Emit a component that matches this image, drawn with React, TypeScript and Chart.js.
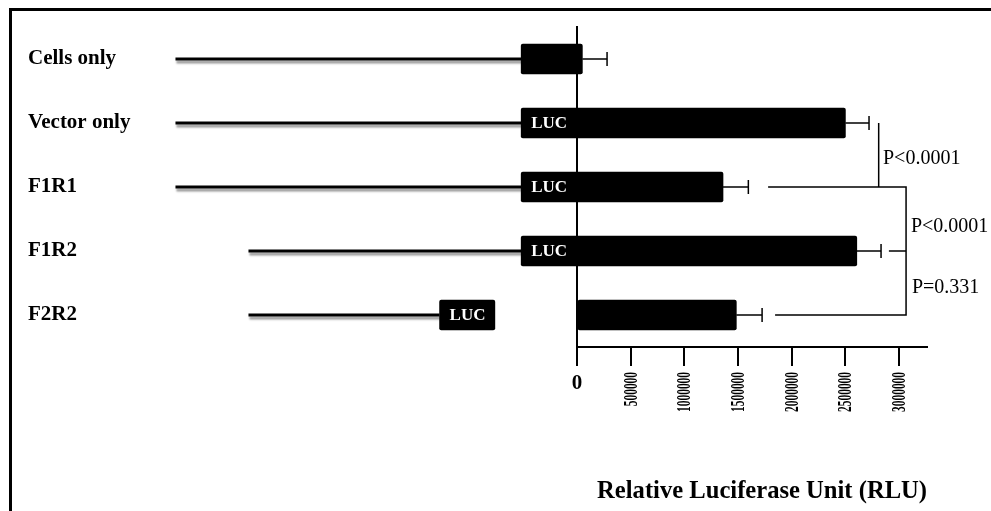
import React, { useEffect, useRef } from 'react';
import { Chart, registerables } from 'chart.js';

Chart.register(...registerables);

// ---- Data ----
const categories = ['Cells only', 'Vector only', 'F1R1', 'F1R2', 'F2R2'];
const rluMean = [50000, 2500000, 1360000, 2606000, 1484000];
const rluError = [230000, 220000, 236000, 226000, 240000];
// construct schematic (drawn on the same value axis, left of zero)
const barStart = [-520000, -520000, -520000, -520000, 0];
const promoterStart = [-3740000, -3740000, -3740000, -3060000, -3060000];
const lucBoxStart = [-520000, -520000, -520000, -520000, -1280000];
const lucBoxEnd = [null, null, null, null, -765000];
const lucText = ['', 'LUC', 'LUC', 'LUC', 'LUC'];
// axis
const axisMax = 3260000;
const tickValues = [0, 500000, 1000000, 1500000, 2000000, 2500000, 3000000];
const axisTitle = 'Relative Luciferase Unit (RLU)';
// significance brackets (value, category)
const bracketLines: [number, string][][] = [
  [[2810000, 'Vector only'], [2810000, 'F1R1']],
  [[1780000, 'F1R1'], [3065000, 'F1R1'], [3065000, 'F2R2'], [1845000, 'F2R2']],
  [[2905000, 'F1R2'], [3065000, 'F1R2']],
];
const pValueLabels = ['P<0.0001', 'P<0.0001', 'P=0.331'];
const pValueX = [2850000, 3110000, 3120000];
const pValueRow = [1.56, 2.62, 3.57];

const SERIF = "'Liberation Serif', 'Times New Roman', serif";

export default function App() {
  const ref = useRef<HTMLCanvasElement>(null);

  useEffect(() => {
    document.body.style.margin = '0';
    const canvas = ref.current;
    if (!canvas) return;

    const shadowPlugin = {
      id: 'lineShadow',
      beforeDatasetDraw(chart: any, args: any) {
        const ds: any = chart.data.datasets[args.index];
        if (ds.shadow) {
          const ctx = chart.ctx;
          ctx.save();
          ctx.shadowColor = 'rgba(0,0,0,0.4)';
          ctx.shadowOffsetX = 1;
          ctx.shadowOffsetY = 3;
          ctx.shadowBlur = 2;
        }
      },
      afterDatasetDraw(chart: any, args: any) {
        const ds: any = chart.data.datasets[args.index];
        if (ds.shadow) chart.ctx.restore();
      },
    };

    const textPlugin = {
      id: 'annotations',
      afterDraw(chart: any) {
        const { ctx } = chart;
        const x = chart.scales.x;
        const y = chart.scales.y;
        ctx.save();
        ctx.textBaseline = 'middle';
        // LUC labels
        ctx.fillStyle = '#fff';
        ctx.font = `bold 17px ${SERIF}`;
        ctx.textAlign = 'left';
        categories.forEach((_, i) => {
          if (lucText[i]) {
            ctx.fillText(lucText[i], x.getPixelForValue(lucBoxStart[i]) + 10, y.getPixelForValue(i) + 1);
          }
        });
        // x tick labels: "0" upright, others rotated and condensed
        ctx.fillStyle = '#000';
        x.ticks.forEach((t: any) => {
          const px = x.getPixelForValue(t.value);
          const label = String(t.value);
          if (t.value === 0) {
            ctx.font = `bold 21px ${SERIF}`;
            ctx.textAlign = 'center';
            ctx.fillText(label, px, x.top + 37);
          } else {
            ctx.save();
            ctx.translate(px + 1, x.top + 25);
            ctx.rotate(-Math.PI / 2);
            ctx.scale(0.6, 1);
            ctx.font = `bold 19px ${SERIF}`;
            ctx.textAlign = 'right';
            ctx.fillText(label, 0, 0);
            ctx.restore();
          }
        });
        // p-values
        ctx.font = `20px ${SERIF}`;
        ctx.textAlign = 'left';
        pValueLabels.forEach((t, i) => {
          ctx.fillText(t, x.getPixelForValue(pValueX[i]), y.getPixelForValue(pValueRow[i]));
        });
        ctx.restore();
      },
    };

    const datasets: any[] = [];
    datasets.push({
      type: 'bar',
      label: 'RLU',
      data: categories.map((_, i) => [barStart[i], rluMean[i]]),
      backgroundColor: '#000',
      barThickness: 30,
      grouped: false,
      borderRadius: 2,
      borderSkipped: false,
      clip: false,
      order: 2,
    });
    datasets.push({
      type: 'bar',
      label: 'LUC box',
      data: categories.map((_, i) => (lucBoxEnd[i] == null ? null : [lucBoxStart[i], lucBoxEnd[i]])),
      backgroundColor: '#000',
      barThickness: 30,
      grouped: false,
      borderRadius: 2,
      borderSkipped: false,
      clip: false,
      order: 2,
    });
    categories.forEach((c, i) => {
      datasets.push({
        type: 'line',
        label: 'construct ' + c,
        data: [
          { x: promoterStart[i], y: c },
          { x: lucBoxStart[i], y: c },
        ],
        borderColor: '#000',
        borderWidth: 3,
        pointStyle: 'line',
        pointRotation: 90,
        pointRadius: [12.5, 0],
        pointBorderWidth: 3,
        pointBorderColor: '#000',
        clip: false,
        shadow: true,
        order: 3,
      });
    });
    categories.forEach((c, i) => {
      datasets.push({
        type: 'line',
        label: 'error ' + c,
        data: [
          { x: rluMean[i], y: c },
          { x: rluMean[i] + rluError[i], y: c },
        ],
        borderColor: '#000',
        borderWidth: 1.5,
        pointStyle: 'line',
        pointRotation: 90,
        pointRadius: [0, 7],
        pointBorderWidth: 1.5,
        pointBorderColor: '#000',
        clip: false,
        order: 1,
      });
    });
    bracketLines.forEach((pts, k) => {
      datasets.push({
        type: 'line',
        label: 'bracket ' + k,
        data: pts.map(([vx, vy]) => ({ x: vx, y: vy })),
        borderColor: '#000',
        borderWidth: 1.5,
        pointRadius: 0,
        clip: false,
        order: 1,
      });
    });

    const chart = new Chart(canvas, {
      type: 'bar',
      data: { labels: categories, datasets },
      options: {
        indexAxis: 'y',
        responsive: false,
        animation: false,
        events: [],
        layout: { padding: { left: 28, right: 64, top: 27, bottom: 0 } },
        plugins: {
          legend: { display: false },
          tooltip: { enabled: false },
        },
        scales: {
          y: {
            type: 'category',
            offset: true,
            grid: { display: false },
            border: { display: true, color: '#000', width: 2 },
            ticks: {
              color: '#000',
              crossAlign: 'far',
              padding: 0,
              font: { family: SERIF, size: 21, weight: 'bold' },
            },
            afterFit: (scale: any) => {
              scale.width = 549;
            },
          },
          x: {
            type: 'linear',
            min: 0,
            max: axisMax,
            afterBuildTicks: (scale: any) => {
              scale.ticks = tickValues.map((v) => ({ value: v }));
            },
            grid: {
              display: true,
              drawOnChartArea: false,
              drawTicks: true,
              tickLength: 19,
              color: '#000',
              lineWidth: 2,
            },
            border: { display: true, color: '#000', width: 2 },
            ticks: {
              display: false,
              autoSkip: false,
            },
            title: {
              display: true,
              text: axisTitle,
              align: 'end',
              color: '#000',
              font: { family: SERIF, size: 24.6, weight: 'bold' },
              padding: { top: 0, bottom: 5 },
            },
            afterFit: (scale: any) => {
              scale.height = 164;
            },
          },
        },
      } as any,
      plugins: [shadowPlugin, textPlugin],
    });

    return () => chart.destroy();
  }, []);

  return (
    <div style={{ position: 'relative', width: 991, height: 511, background: '#fff', overflow: 'hidden' }}>
      <div
        style={{
          position: 'absolute',
          left: 9,
          top: 8,
          right: 0,
          bottom: 0,
          borderTop: '3px solid #000',
          borderLeft: '3px solid #000',
        }}
      />
      <canvas
        ref={ref}
        width={991}
        height={511}
        style={{ position: 'absolute', left: 0, top: 0, width: 991, height: 511 }}
      />
    </div>
  );
}
